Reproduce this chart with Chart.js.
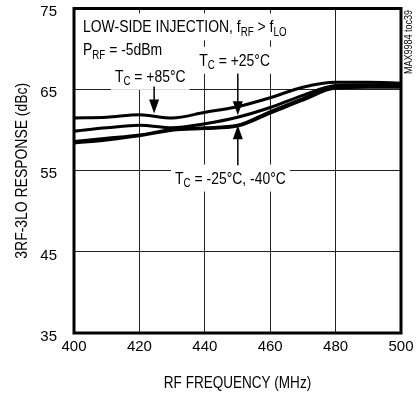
<!DOCTYPE html>
<html><head><meta charset="utf-8">
<script src="https://cdn.jsdelivr.net/npm/chart.js@4"></script>
<style>html,body{margin:0;padding:0;background:#fff}#wrap{width:416px;height:395px;position:relative}</style>
</head><body><div id="wrap"><canvas id="c"></canvas></div>
<script>
const freqMHz = [400, 410, 420, 430, 440, 450, 460, 470, 480, 490, 500];
const tcPlus85 = [61.5, 61.6, 61.9, 61.5, 62.2, 62.9, 64.0, 65.3, 65.9, 65.9, 65.8];
const tcPlus25 = [59.9, 60.3, 60.6, 60.3, 60.8, 61.6, 62.8, 64.3, 65.5, 65.6, 65.5];
const tcMinus25 = [58.6, 59.0, 59.4, 60.1, 60.3, 60.6, 62.3, 63.9, 65.3, 65.4, 65.4];
const tcMinus40 = [58.4, 58.8, 59.3, 60.0, 60.2, 60.5, 62.1, 63.7, 65.2, 65.3, 65.3];
const xTicks = [400, 420, 440, 460, 480, 500];
const yTicks = [35, 45, 55, 65, 75];

const FONT = "'Liberation Sans',Arial,Helvetica,sans-serif";
const NARROW = 0.82;

function pts(ys) { return freqMHz.map((f, i) => ({x: f, y: ys[i]})); }
function ds(ys) {
  return {data: pts(ys), borderColor: '#000', borderWidth: 3, pointRadius: 0,
          tension: 0.4, cubicInterpolationMode: 'monotone', fill: false};
}

// rich text segments: [text, isSub]
function richWidth(ctx, segs, size) {
  let w = 0;
  for (const [t, sub] of segs) { ctx.font = (sub ? size * 0.7 : size) + 'px ' + FONT; w += ctx.measureText(t).width; }
  return w * NARROW;
}
function drawRich(ctx, segs, x, y, size) {
  ctx.save();
  ctx.translate(x, y); ctx.scale(NARROW, 1);
  ctx.textBaseline = 'alphabetic'; ctx.textAlign = 'left'; ctx.fillStyle = '#000';
  let cx = 0;
  for (const [t, sub] of segs) {
    ctx.font = (sub ? size * 0.7 : size) + 'px ' + FONT;
    ctx.fillText(t, cx, sub ? size * 0.2 : 0);
    cx += ctx.measureText(t).width;
  }
  ctx.restore();
}
function drawNarrow(ctx, text, x, y, size, rot) {
  ctx.save();
  ctx.translate(x, y); if (rot) ctx.rotate(rot); ctx.scale(NARROW, 1);
  ctx.font = size + 'px ' + FONT; ctx.fillStyle = '#000';
  ctx.textAlign = 'center'; ctx.textBaseline = 'middle';
  ctx.fillText(text, 0, 0);
  ctx.restore();
}

// annotation labels: anchor (freq, dBc) = left edge / baseline
const labels = [
  {at: [402.75, 72.06], segs: [['LOW-SIDE INJECTION, f', 0], ['RF', 1], [' > f', 0], ['LO', 1]]},
  {at: [402.75, 69.25], segs: [['P', 0], ['RF', 1], [' = -5dBm', 0]]},
  {at: [412.5, 65.96], segs: [['T', 0], ['C', 1], [' = +85°C', 0]]},
  {at: [438.3, 67.94], segs: [['T', 0], ['C', 1], [' = +25°C', 0]]},
  {at: [430.9, 53.42], segs: [['T', 0], ['C', 1], [' = -25°C, -40°C', 0]]}
];
// arrows: [freq, fromY, tipY] in data units
const arrows = [
  [424.5, 65.4, 62.06],
  [450.1, 67.0, 61.85],
  [450.1, 55.68, 60.62]
];
const LSIZE = 17;

const annot = {
  id: 'annot',
  beforeDatasetsDraw(chart) {
    const ctx = chart.ctx, xs = chart.scales.x, ys = chart.scales.y;
    ctx.save();
    ctx.fillStyle = '#fff';
    for (const L of labels) {
      const x = xs.getPixelForValue(L.at[0]), y = ys.getPixelForValue(L.at[1]);
      const w = richWidth(ctx, L.segs, LSIZE);
      ctx.fillRect(x - 4, y - 19, w + 8, 27);
    }
    ctx.restore();
    for (const L of labels) {
      drawRich(ctx, L.segs, xs.getPixelForValue(L.at[0]), ys.getPixelForValue(L.at[1]), LSIZE);
    }
  },
  afterDatasetsDraw(chart) {
    const ctx = chart.ctx, xs = chart.scales.x, ys = chart.scales.y, a = chart.chartArea;
    ctx.save();
    ctx.strokeStyle = '#000'; ctx.fillStyle = '#000'; ctx.lineWidth = 1.5;
    for (const [f, y0, y1] of arrows) {
      const x = xs.getPixelForValue(f), p0 = ys.getPixelForValue(y0), p1 = ys.getPixelForValue(y1);
      const dir = p1 > p0 ? 1 : -1;
      ctx.beginPath(); ctx.moveTo(x, p0); ctx.lineTo(x, p1 - dir * 10); ctx.stroke();
      ctx.beginPath(); ctx.moveTo(x, p1); ctx.lineTo(x - 5, p1 - dir * 14); ctx.lineTo(x + 5, p1 - dir * 14); ctx.closePath(); ctx.fill();
    }
    ctx.lineWidth = 3;
    ctx.strokeRect(a.left, a.top, a.right - a.left, a.bottom - a.top);
    ctx.restore();
    // axis titles and side note
    drawNarrow(ctx, 'RF FREQUENCY (MHz)', (a.left + a.right) / 2, 383, 16.5, 0);
    drawNarrow(ctx, '3RF-3LO RESPONSE (dBc)', 22, (a.top + a.bottom) / 2, 17, -Math.PI / 2);
    drawNarrow(ctx, 'MAX9984 toc39', 408.5, 42, 11, -Math.PI / 2);
  }
};

function noPad(s) { s.paddingLeft = 0; s.paddingRight = 0; s.paddingTop = 0; s.paddingBottom = 0; }

new Chart(document.getElementById('c'), {
  type: 'line',
  data: {datasets: [ds(tcPlus85), ds(tcPlus25), ds(tcMinus25), ds(tcMinus40)]},
  plugins: [annot],
  options: {
    responsive: true, maintainAspectRatio: false, animation: false,
    layout: {padding: {top: 8.5, right: 15, left: 0, bottom: 0}},
    plugins: {legend: {display: false}, tooltip: {enabled: false}},
    scales: {
      x: {
        type: 'linear', min: 400, max: 500,
        afterBuildTicks(s) { s.ticks = xTicks.map(v => ({value: v})); },
        afterFit(s) { s.height = 62; noPad(s); },
        grid: {color: '#222', lineWidth: 1, drawTicks: false},
        border: {display: false},
        ticks: {color: '#000', padding: 5, font: {family: FONT, size: 15}}
      },
      y: {
        min: 35, max: 75,
        afterBuildTicks(s) { s.ticks = yTicks.map(v => ({value: v})); },
        afterFit(s) { s.width = 74; noPad(s); },
        grid: {color: '#222', lineWidth: 1, drawTicks: false},
        border: {display: false},
        ticks: {color: '#000', padding: 17, labelOffset: 3.5, font: {family: FONT, size: 15}}
      }
    }
  }
});
</script></body></html>
